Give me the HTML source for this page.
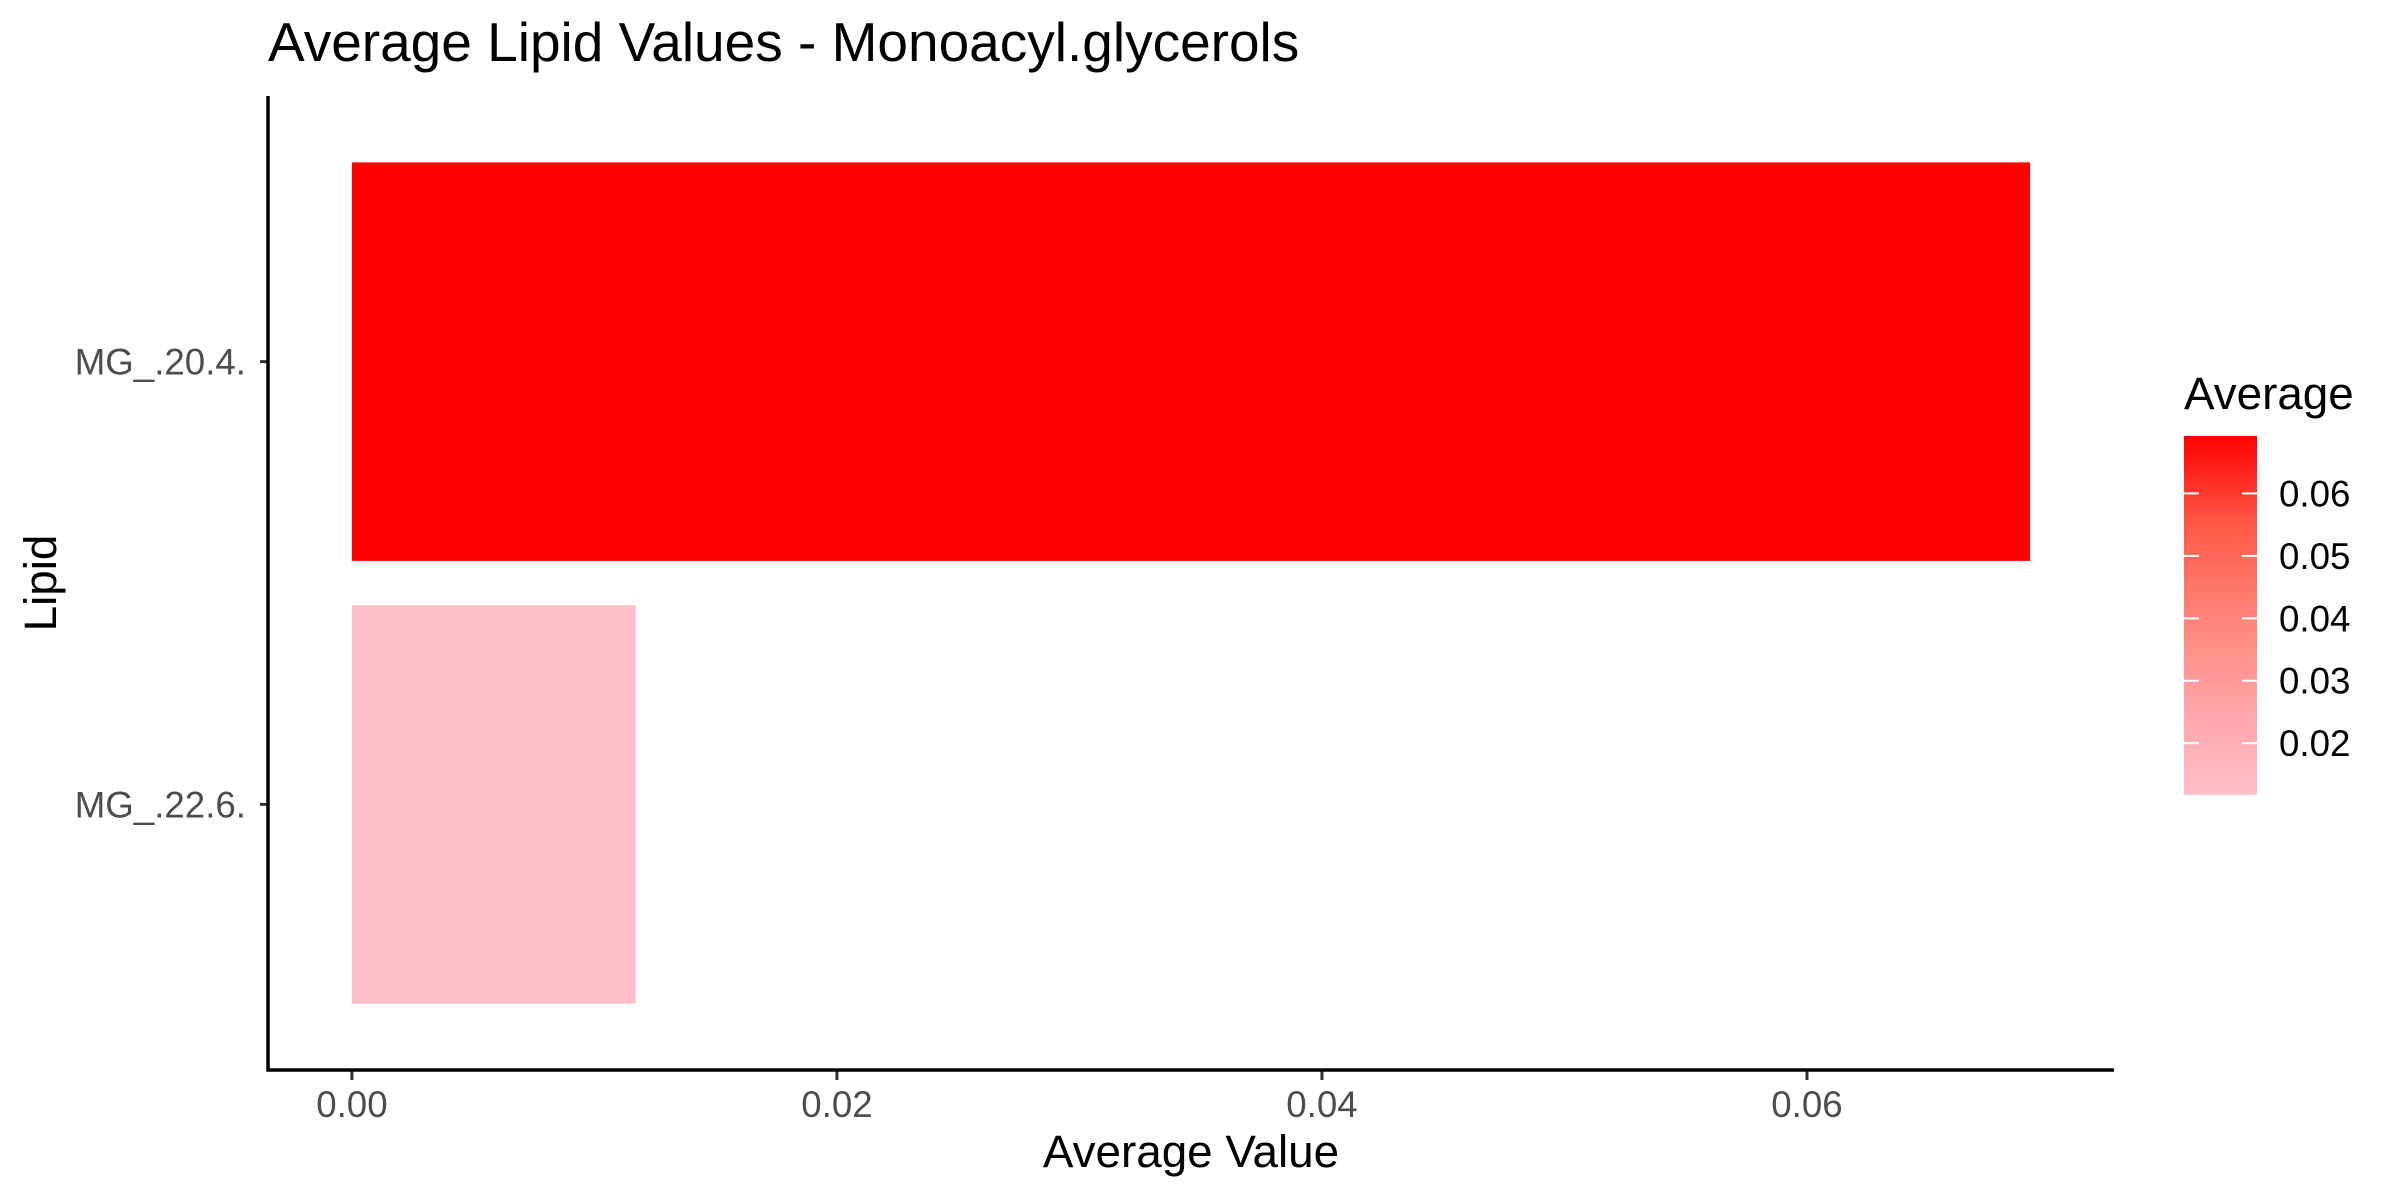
<!DOCTYPE html>
<html><head><meta charset="utf-8"><style>
html,body{margin:0;padding:0;background:#fff;}
svg{display:block;font-family:"Liberation Sans",Arial,sans-serif;}
</style></head><body>
<svg id="chart" width="2400" height="1200" viewBox="0 0 2400 1200">
<defs>
<linearGradient id="lg" x1="0" y1="1" x2="0" y2="0">
<stop offset="0" stop-color="#FFC0CB"/>
<stop offset="0.25" stop-color="#FFA3A5"/>
<stop offset="0.5" stop-color="#FF8478"/>
<stop offset="0.75" stop-color="#FF5A47"/>
<stop offset="1" stop-color="#FF0000"/>
</linearGradient>
</defs>
<text x="268" y="61" font-size="55" fill="#000">Average Lipid Values - Monoacyl.glycerols</text>
<g id="plot"></g>
<text x="1191" y="1167" font-size="45.8" text-anchor="middle" fill="#000">Average Value</text>
<text transform="translate(56,583) rotate(-90)" font-size="45.8" text-anchor="middle" fill="#000">Lipid</text>
<text x="2184" y="409" font-size="45.8" fill="#000">Average</text>
<rect x="2184" y="436" width="73" height="359" fill="url(#lg)"/>
<g id="legend"></g>
</svg>
<script>
const categories = ["MG_.20.4.", "MG_.22.6."];
const values = [0.0692, 0.0117];
const xTicks = [0, 0.02, 0.04, 0.06];
const xTickLabels = ["0.00", "0.02", "0.04", "0.06"];
const legendTicks = [0.02, 0.03, 0.04, 0.05, 0.06];
const legendTickLabels = ["0.02", "0.03", "0.04", "0.05", "0.06"];

const NS = "http://www.w3.org/2000/svg";
const L = 268, R = 2114, T = 96, B = 1070;
const vmax = Math.max(...values), vmin = Math.min(...values);
const xmin = -0.05 * vmax, xmax = vmax * 1.05;
function x(v){ return L + (v - xmin) / (xmax - xmin) * (R - L); }
const step = (B - T) / (categories.length - 1 + 1.2);
function y(i){ return B - 0.6 * step - (categories.length - 1 - i) * step; }
function mk(tag, attrs, parent){ const e = document.createElementNS(NS, tag); for (const k in attrs) e.setAttribute(k, attrs[k]); parent.appendChild(e); return e; }
function lerp(a,b,t){ return Math.round(a + (b - a) * t); }
function col(v){ const t = (v - vmin) / (vmax - vmin); return `rgb(255,${lerp(192,0,t)},${lerp(203,0,t)})`; }
const plot = document.getElementById("plot");
values.forEach((v, i) => {
  const cy = y(i), h = step * 0.9;
  const r = mk("rect", {x: x(0), y: cy - h/2, width: x(v) - x(0), height: h, fill: col(v)}, plot);
  
  
  const tk = mk("line", {x1: L - 8, x2: L, y1: cy, y2: cy, stroke: "#333", "stroke-width": 3}, plot);
  
  
  const t = mk("text", {x: L - 22, y: cy + 13, "font-size": 36.7, fill: "#4D4D4D", "text-anchor": "end"}, plot);
  t.textContent = categories[i];
  
  
});
xTicks.forEach((v, i) => {
  const tk = mk("line", {x1: x(v), x2: x(v), y1: B, y2: B + 10, stroke: "#333", "stroke-width": 3}, plot);
  
  
  const t = mk("text", {x: x(v), y: 1117, "font-size": 36.7, fill: "#4D4D4D", "text-anchor": "middle"}, plot);
  t.textContent = xTickLabels[i];
  
  
});
const ax = mk("path", {d: `M${L} ${T} V${B} H${R}`, fill: "none", stroke: "#000", "stroke-width": 3.5}, plot);


const lg = document.getElementById("legend");
const LT = 436, LB = 795;
function ly(v){ return LB - (v - vmin) / (vmax - vmin) * (LB - LT); }
legendTicks.forEach((v, i) => {
  const yy = ly(v);
  const a = mk("line", {x1: 2184, x2: 2199, y1: yy, y2: yy, stroke: "#fff", "stroke-width": 2}, lg);
  
  
  const b = mk("line", {x1: 2242, x2: 2257, y1: yy, y2: yy, stroke: "#fff", "stroke-width": 2}, lg);
  
  
  const t = mk("text", {x: 2279, y: yy + 13, "font-size": 36.7, fill: "#000"}, lg);
  t.textContent = legendTickLabels[i];
  
  
});
</script>
</body></html>
